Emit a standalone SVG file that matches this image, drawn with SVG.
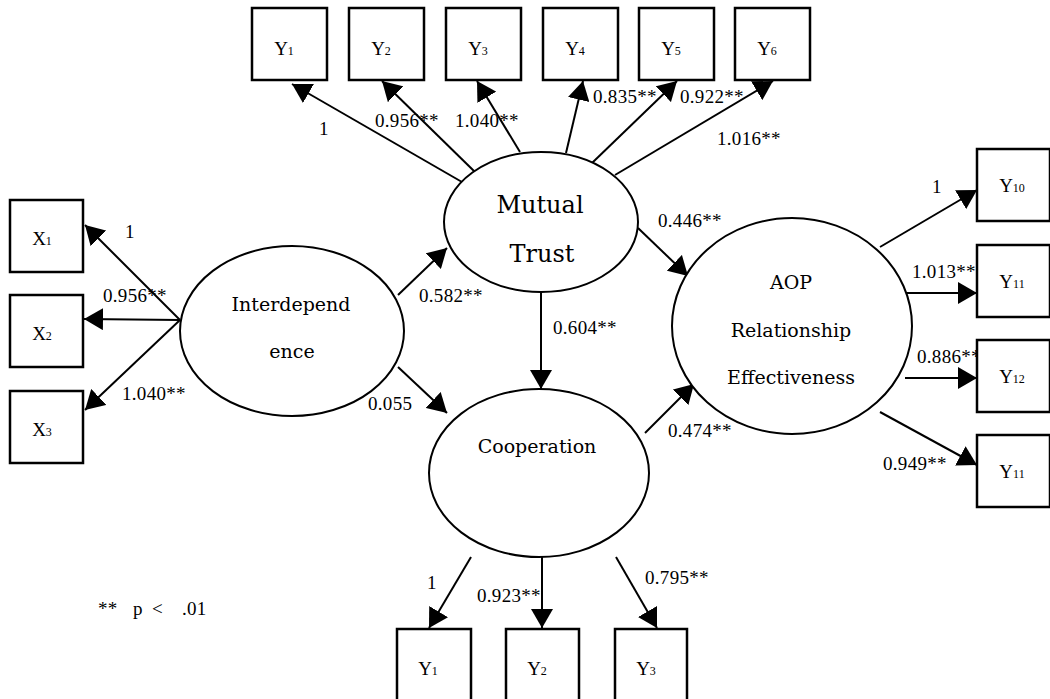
<svg xmlns="http://www.w3.org/2000/svg" width="1050" height="699" viewBox="0 0 1050 699">
<defs>
<marker id="ah" markerUnits="userSpaceOnUse" markerWidth="22" markerHeight="22" refX="19" refY="11" orient="auto">
<path d="M0,0 L19,11 L0,22 z" fill="#000"/>
</marker>
<style>
.box{fill:#fff;stroke:#000;stroke-width:2.5}
.ell{fill:#fff;stroke:#000;stroke-width:2}
.con{stroke:#000;stroke-width:2;fill:none;marker-end:url(#ah)}
.bl{font-family:"Liberation Serif",serif;font-size:19px;fill:#000;text-anchor:middle}
.sub{font-size:12px}
.el{font-family:"DejaVu Serif",serif;font-size:19px;fill:#000;text-anchor:middle}
.num{font-family:"Liberation Serif",serif;font-size:19px;letter-spacing:0.3px;fill:#000}
</style>
</defs>
<rect width="1050" height="699" fill="#fff"/>
<g id="connectors">
<line class="con" x1="462" y1="182" x2="292" y2="84"/>
<line class="con" x1="475" y1="172" x2="382" y2="81"/>
<line class="con" x1="520" y1="152" x2="477" y2="81"/>
<line class="con" x1="566" y1="153" x2="583" y2="81"/>
<line class="con" x1="592" y1="163" x2="677" y2="81"/>
<line class="con" x1="615" y1="175" x2="773" y2="81"/>
<line class="con" x1="180" y1="320" x2="85" y2="225"/>
<line class="con" x1="180" y1="320" x2="84" y2="319"/>
<line class="con" x1="180" y1="320" x2="85" y2="410"/>
<line class="con" x1="398" y1="295" x2="447" y2="248"/>
<line class="con" x1="398" y1="367" x2="447" y2="413"/>
<line class="con" x1="541" y1="293" x2="541" y2="389"/>
<line class="con" x1="638" y1="228" x2="688" y2="276"/>
<line class="con" x1="645" y1="433" x2="694" y2="384"/>
<line class="con" x1="880" y1="247" x2="977" y2="190"/>
<line class="con" x1="905" y1="293" x2="977" y2="293"/>
<line class="con" x1="905" y1="378" x2="977" y2="378"/>
<line class="con" x1="880" y1="412" x2="977" y2="465"/>
<line class="con" x1="471" y1="557" x2="429" y2="628"/>
<line class="con" x1="542" y1="557" x2="542" y2="628"/>
<line class="con" x1="616" y1="557" x2="657" y2="628"/>
</g>
<g id="labels">
<text class="num" x="319" y="135">1</text>
<text class="num" x="375" y="127">0.956**</text>
<text class="num" x="455" y="127">1.040**</text>
<text class="num" x="593" y="103">0.835**</text>
<text class="num" x="680" y="103">0.922**</text>
<text class="num" x="717" y="145">1.016**</text>
<text class="num" x="125" y="238">1</text>
<text class="num" x="103" y="302">0.956**</text>
<text class="num" x="122" y="400">1.040**</text>
<text class="num" x="419" y="302">0.582**</text>
<text class="num" x="368" y="410">0.055</text>
<text class="num" x="553" y="334">0.604**</text>
<text class="num" x="658" y="227">0.446**</text>
<text class="num" x="668" y="437">0.474**</text>
<text class="num" x="932" y="193">1</text>
<text class="num" x="912" y="278">1.013**</text>
<text class="num" x="917" y="363">0.886**</text>
<text class="num" x="883" y="470">0.949**</text>
<text class="num" x="427" y="589">1</text>
<text class="num" x="477" y="602">0.923**</text>
<text class="num" x="645" y="584">0.795**</text>
<text class="num" y="615"><tspan x="98">**</tspan><tspan x="133">p</tspan><tspan x="152">&lt;</tspan><tspan x="182">.01</tspan></text>
</g>
<g id="mutual-trust">
<ellipse class="ell" cx="541" cy="222" rx="97" ry="70"/>
<text class="el" x="540" y="213" style="font-size:24px">Mutual</text>
<text class="el" x="542" y="262" style="font-size:24px">Trust</text>
</g>
<g id="interdependence">
<ellipse class="ell" cx="292" cy="331" rx="112" ry="85"/>
<text class="el" x="291" y="311">Interdepend</text>
<text class="el" x="292" y="358">ence</text>
</g>
<g id="cooperation">
<ellipse class="ell" cx="539" cy="473" rx="110" ry="84"/>
<text class="el" x="537" y="453">Cooperation</text>
</g>
<g id="aop">
<ellipse class="ell" cx="792" cy="326" rx="120" ry="108"/>
<text class="el" x="791" y="289">AOP</text>
<text class="el" x="791" y="337">Relationship</text>
<text class="el" x="791" y="384">Effectiveness</text>
</g>
<g id="top-y1"><rect class="box" x="252" y="8" width="75" height="72"/><text class="bl" x="284" y="55">Y<tspan class="sub">1</tspan></text></g>
<g id="top-y2"><rect class="box" x="349" y="8" width="75" height="72"/><text class="bl" x="381" y="55">Y<tspan class="sub">2</tspan></text></g>
<g id="top-y3"><rect class="box" x="446" y="8" width="75" height="72"/><text class="bl" x="478" y="55">Y<tspan class="sub">3</tspan></text></g>
<g id="top-y4"><rect class="box" x="543" y="8" width="75" height="72"/><text class="bl" x="575" y="55">Y<tspan class="sub">4</tspan></text></g>
<g id="top-y5"><rect class="box" x="639" y="8" width="75" height="72"/><text class="bl" x="671" y="55">Y<tspan class="sub">5</tspan></text></g>
<g id="top-y6"><rect class="box" x="735" y="8" width="75" height="72"/><text class="bl" x="767" y="55">Y<tspan class="sub">6</tspan></text></g>
<g id="x1"><rect class="box" x="10" y="200" width="73" height="72"/><text class="bl" x="42" y="245">X<tspan class="sub">1</tspan></text></g>
<g id="x2"><rect class="box" x="10" y="295" width="73" height="72"/><text class="bl" x="42" y="340">X<tspan class="sub">2</tspan></text></g>
<g id="x3"><rect class="box" x="10" y="391" width="73" height="72"/><text class="bl" x="42" y="436">X<tspan class="sub">3</tspan></text></g>
<g id="y10"><rect class="box" x="977" y="149" width="73" height="72"/><text class="bl" x="1012" y="192">Y<tspan class="sub">10</tspan></text></g>
<g id="y11"><rect class="box" x="977" y="245" width="73" height="72"/><text class="bl" x="1012" y="288">Y<tspan class="sub">11</tspan></text></g>
<g id="y12"><rect class="box" x="977" y="340" width="73" height="72"/><text class="bl" x="1012" y="383">Y<tspan class="sub">12</tspan></text></g>
<g id="y11b"><rect class="box" x="977" y="435" width="73" height="72"/><text class="bl" x="1012" y="478">Y<tspan class="sub">11</tspan></text></g>
<g id="bot-y1"><rect class="box" x="397" y="629" width="74" height="76"/><text class="bl" x="428" y="675">Y<tspan class="sub">1</tspan></text></g>
<g id="bot-y2"><rect class="box" x="506" y="629" width="73" height="76"/><text class="bl" x="537" y="675">Y<tspan class="sub">2</tspan></text></g>
<g id="bot-y3"><rect class="box" x="615" y="629" width="72" height="76"/><text class="bl" x="646" y="675">Y<tspan class="sub">3</tspan></text></g>
</svg>
